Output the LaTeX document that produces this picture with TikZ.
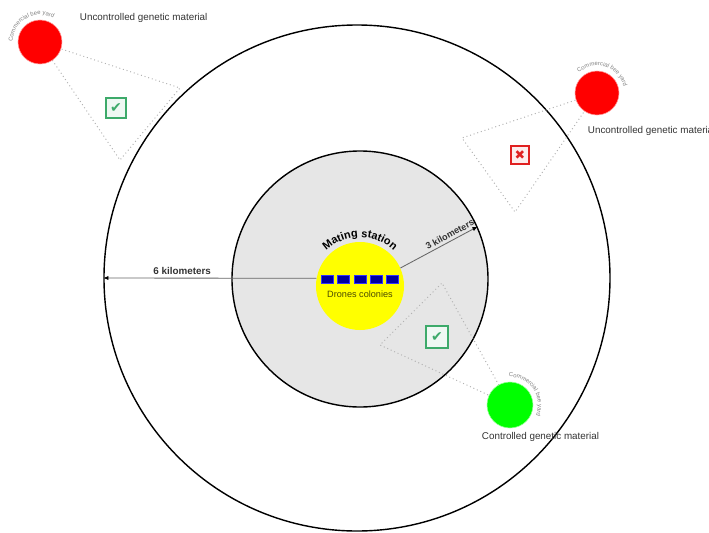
\documentclass[tikz,border=0pt]{standalone}
\usepackage{fontspec}
\setmainfont{Liberation Sans}
\newfontfamily\dvsans{DejaVu Sans}
\usetikzlibrary{arrows.meta,decorations.text}
\definecolor{beered}{HTML}{FF0000}
\definecolor{beegreen}{HTML}{00FF00}
\definecolor{ringgray}{HTML}{E6E6E6}
\definecolor{stationyellow}{HTML}{FFFF00}
\definecolor{droneblue}{HTML}{0000A0}
\definecolor{droneolive}{HTML}{4A4A00}
\definecolor{okgreen}{HTML}{3DAA6A}
\definecolor{nored}{HTML}{E02020}
\newcommand{\arcfont}{\fontsize{4.2}{5}\selectfont}
\begin{document}
\begin{tikzpicture}[every node/.style={font=\fontsize{7}{8}\selectfont,text=black!80}, zone/.style={circle,draw=black,line width=1pt,inner sep=0pt}, apiary/.style={circle,inner sep=0pt,minimum size=11mm,line width=0.4pt}, cone/.style={draw=gray!60,dotted,line width=0.7pt}, tickbox/.style={draw=okgreen,line width=0.9pt,fill=okgreen!8,minimum size=5mm,inner sep=0pt,text=okgreen,font=\dvsans\fontsize{10}{10}\selectfont}, crossbox/.style={tickbox,draw=nored,fill=nored!8,text=nored,minimum size=4.5mm,font=\dvsans\fontsize{9}{9}\selectfont}, colony/.style={draw=blue!80!white,fill=droneblue,line width=0.6pt,minimum width=3mm,minimum height=2mm,inner sep=0pt}, dist/.style={draw=black!60,line width=0.6pt,-{Latex[black,length=1.3mm,width=1.1mm]}}, arctext/.style={decorate,decoration={text along path,text align=center,text color=gray,text={|\arcfont|Commercial bee yard}}}]
\useasboundingbox (-8.925,-6.35) rectangle (8.8,6.95);
\node[zone,minimum size=12.65cm] (outer) at (0,0) {};
\node[zone,fill=ringgray,minimum size=6.4cm] (inner) at (0.075,-0.025) {};
\coordinate (r1) at (-7.925,5.9);\coordinate (r2) at (6.0,4.625);\coordinate (g1) at (3.825,-3.175);
\draw[cone] (r1)--(-4.425,4.75)--(-5.925,2.95)--cycle;
\draw[cone] (r2)--(2.625,3.5)--(3.95,1.65)--cycle;
\draw[cone] (g1)--(2.125,-0.125)--(0.575,-1.675)--cycle;
\node[apiary,fill=beered,draw=beered!40] (red1) at (r1) {};
\node[apiary,fill=beered,draw=beered!40] (red2) at (r2) {};
\node[apiary,fill=beegreen,draw=beegreen!40,minimum size=11.5mm] (green) at (g1) {};
\path[arctext] ([shift={(200:0.68)}]red1.center) arc[start angle=200,end angle=40,radius=0.68];
\path[arctext] ([shift={(150:0.68)}]red2.center) arc[start angle=150,end angle=-5,radius=0.68];
\path[arctext] ([shift={(110:0.7)}]green.center) arc[start angle=110,end angle=-40,radius=0.7];
\node[anchor=west] (unc1) at (-7.05,6.5) {Uncontrolled genetic material};
\node[anchor=west] (unc2) at (5.65,3.675) {Uncontrolled genetic material};
\node[anchor=west] (ctl) at (3.0,-3.975) {Controlled genetic material};
\node[tickbox] (ok1) at (-6.025,4.25) {✔};
\node[crossbox] (no1) at (4.075,3.075) {✖};
\node[tickbox,minimum size=5.5mm] (ok2) at (2.0,-1.475) {✔};
\node[circle,fill=stationyellow,inner sep=0pt,minimum size=2.2cm] (yellow) at (0.075,-0.2) {};
\path[decorate,decoration={text along path,text align=center,text={|\bfseries\fontsize{7.8}{8}\selectfont|Mating station}}] ([shift={(148:1.22)}]yellow.center) arc[start angle=148,end angle=32,radius=1.22];
\foreach \k in {-2,...,2} \node[colony] (col\k) at (0.075+\k*0.41,-0.025) {};
\node[text=droneolive,font=\fontsize{6.5}{7}\selectfont] (drones) at (0.075,-0.4) {Drones colonies};
\draw[dist] (yellow.170)--(outer.west) node[pos=0.63,above=-1pt,font=\bfseries\fontsize{7}{8}\selectfont] {6 kilometers};\draw[dist] (yellow.24)--(inner.24) node[pos=0.68,sloped,above=-1.5pt,font=\bfseries\fontsize{6.5}{7}\selectfont] {3 kilometers};
\end{tikzpicture}
\end{document}
